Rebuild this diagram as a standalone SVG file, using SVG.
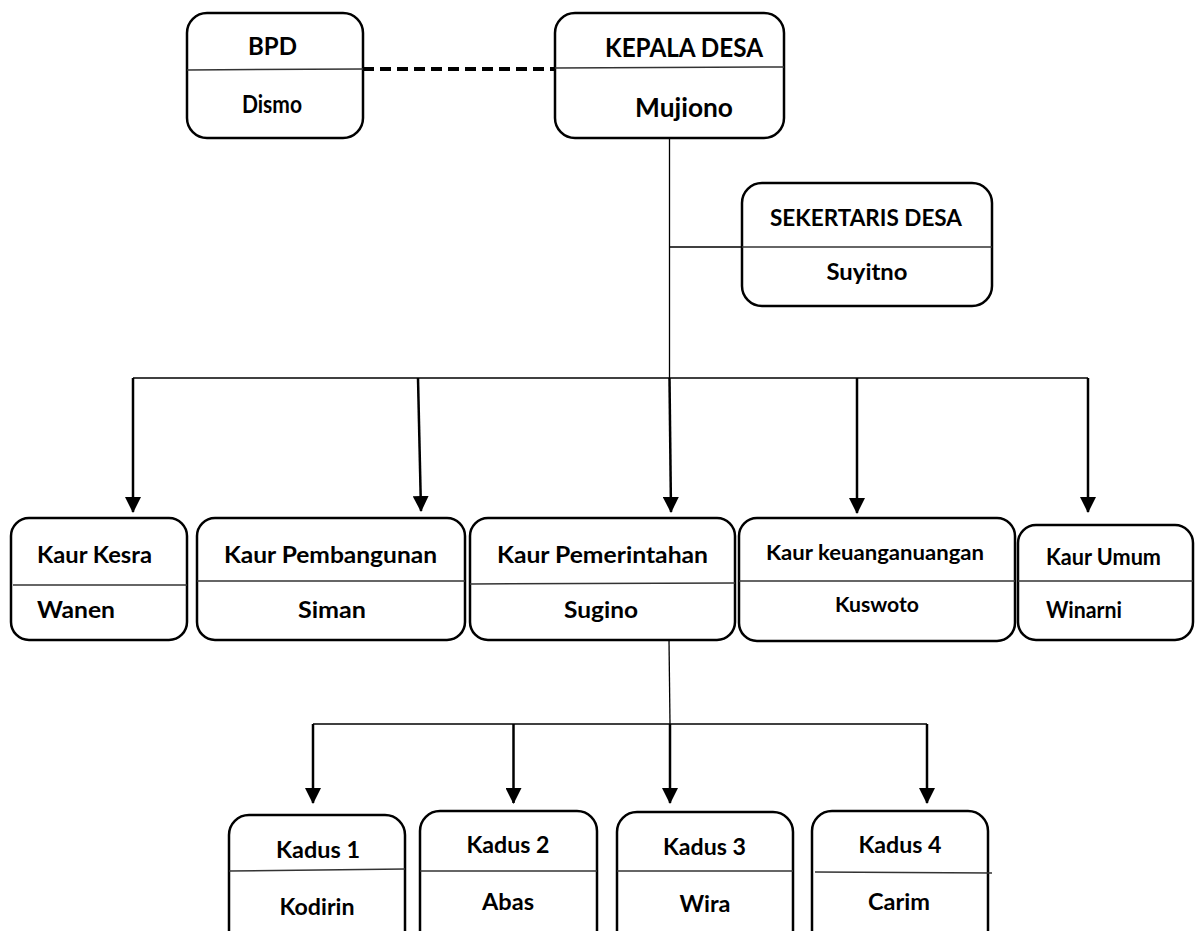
<svg xmlns="http://www.w3.org/2000/svg" width="1195" height="931" viewBox="0 0 1195 931">
<style>
.box{fill:#fff;stroke:#000;stroke-width:2.5}
.div{stroke:#333;stroke-width:1.5;fill:none}
.ln{stroke:#000;stroke-width:1.3;fill:none}
.arr{stroke:#000;stroke-width:2.5;fill:none}
text{font-family:Lato,"Open Sans","Liberation Sans",sans-serif;font-weight:bold;fill:#000}
.c{text-anchor:middle}
</style>
<defs>
<marker id="ahd" markerUnits="userSpaceOnUse" markerWidth="16" markerHeight="16" refX="15" refY="8" orient="auto" viewBox="0 0 16 16">
<path d="M0,0 L16,8 L0,16 Z" fill="#000"/>
</marker>
</defs>
<rect width="1195" height="931" fill="#fff"/>
<g id="connectors">
<line x1="363" y1="69" x2="555" y2="69" stroke="#000" stroke-width="4" stroke-dasharray="11,6"/>
<line class="ln" x1="669.5" y1="139" x2="669.5" y2="378"/>
<line class="ln" x1="669.5" y1="247" x2="742" y2="247"/>
<line class="ln" x1="133" y1="378" x2="1088" y2="378"/>
<line class="arr" x1="133" y1="378" x2="133" y2="512" marker-end="url(#ahd)"/>
<line class="arr" x1="418" y1="378" x2="421" y2="511" marker-end="url(#ahd)"/>
<line class="arr" x1="669.5" y1="378" x2="671" y2="512" marker-end="url(#ahd)"/>
<line class="arr" x1="857" y1="378" x2="857" y2="513" marker-end="url(#ahd)"/>
<line class="arr" x1="1088" y1="378" x2="1088" y2="512" marker-end="url(#ahd)"/>
<line class="ln" x1="669" y1="640" x2="670" y2="724"/>
<line class="ln" x1="313" y1="724" x2="927" y2="724"/>
<line class="arr" x1="313" y1="724" x2="313" y2="803" marker-end="url(#ahd)"/>
<line class="arr" x1="513.5" y1="724" x2="513.5" y2="803" marker-end="url(#ahd)"/>
<line class="arr" x1="670" y1="724" x2="670" y2="803" marker-end="url(#ahd)"/>
<line class="arr" x1="927" y1="724" x2="927" y2="803" marker-end="url(#ahd)"/>
</g>
<g id="bpd">
<rect class="box" x="187" y="13" width="176" height="125" rx="20"/>
<line class="div" x1="187" y1="70" x2="363" y2="69"/>
<text class="c" x="272.5" y="55" font-size="24" textLength="49" lengthAdjust="spacingAndGlyphs">BPD</text>
<text class="c" x="272" y="113" font-size="24" textLength="60" lengthAdjust="spacingAndGlyphs">Dismo</text>
</g>
<g id="kepala-desa">
<rect class="box" x="555" y="13" width="229" height="125" rx="20"/>
<line class="div" x1="555" y1="68" x2="784" y2="67"/>
<text class="c" x="684" y="57" font-size="27" textLength="158" lengthAdjust="spacingAndGlyphs">KEPALA DESA</text>
<text class="c" x="684" y="117" font-size="26" textLength="98" lengthAdjust="spacingAndGlyphs">Mujiono</text>
</g>
<g id="sekertaris-desa">
<rect class="box" x="742" y="183" width="250" height="123" rx="20"/>
<line class="div" x1="742" y1="247" x2="992" y2="247"/>
<text class="c" x="866" y="226" font-size="22" textLength="192" lengthAdjust="spacingAndGlyphs">SEKERTARIS DESA</text>
<text class="c" x="867" y="280" font-size="22" textLength="81" lengthAdjust="spacingAndGlyphs">Suyitno</text>
</g>
<g id="kaur-kesra">
<rect class="box" x="11" y="518" width="176" height="122" rx="18"/>
<line class="div" x1="13" y1="585" x2="187" y2="585"/>
<text x="37" y="563" font-size="23" textLength="115" lengthAdjust="spacingAndGlyphs">Kaur Kesra</text>
<text x="37" y="618" font-size="23" textLength="78" lengthAdjust="spacingAndGlyphs">Wanen</text>
</g>
<g id="kaur-pembangunan">
<rect class="box" x="197" y="518" width="268" height="122" rx="18"/>
<line class="div" x1="197" y1="581" x2="465" y2="581"/>
<text class="c" x="330.5" y="563" font-size="23" textLength="213" lengthAdjust="spacingAndGlyphs">Kaur Pembangunan</text>
<text class="c" x="332" y="618" font-size="23" textLength="68" lengthAdjust="spacingAndGlyphs">Siman</text>
</g>
<g id="kaur-pemerintahan">
<rect class="box" x="470" y="518" width="265" height="122" rx="18"/>
<line class="div" x1="470" y1="584" x2="735" y2="583"/>
<text class="c" x="602.5" y="563" font-size="23" textLength="211" lengthAdjust="spacingAndGlyphs">Kaur Pemerintahan</text>
<text class="c" x="601" y="618" font-size="23" textLength="74" lengthAdjust="spacingAndGlyphs">Sugino</text>
</g>
<g id="kaur-keuangan">
<rect class="box" x="739" y="518" width="276" height="123" rx="18"/>
<line class="div" x1="739" y1="581" x2="1015" y2="581"/>
<text class="c" x="875" y="560" font-size="21" textLength="218" lengthAdjust="spacingAndGlyphs">Kaur keuanganuangan</text>
<text class="c" x="877" y="612" font-size="21" textLength="84" lengthAdjust="spacingAndGlyphs">Kuswoto</text>
</g>
<g id="kaur-umum">
<rect class="box" x="1018" y="525" width="175" height="115" rx="18"/>
<line class="div" x1="1018" y1="581" x2="1193" y2="581"/>
<text x="1046" y="565" font-size="22" textLength="115" lengthAdjust="spacingAndGlyphs">Kaur Umum</text>
<text x="1046" y="618" font-size="22" textLength="76" lengthAdjust="spacingAndGlyphs">Winarni</text>
</g>
<g id="kadus-1">
<rect class="box" x="229" y="815" width="176" height="150" rx="20"/>
<line class="div" x1="229" y1="871" x2="405" y2="869"/>
<text class="c" x="318" y="858" font-size="23" textLength="84" lengthAdjust="spacingAndGlyphs">Kadus 1</text>
<text class="c" x="317" y="915" font-size="23" textLength="75" lengthAdjust="spacingAndGlyphs">Kodirin</text>
</g>
<g id="kadus-2">
<rect class="box" x="420" y="811" width="177" height="150" rx="20"/>
<line class="div" x1="420" y1="871" x2="597" y2="871"/>
<text class="c" x="508" y="853" font-size="23" textLength="83" lengthAdjust="spacingAndGlyphs">Kadus 2</text>
<text class="c" x="508" y="910" font-size="23" textLength="52" lengthAdjust="spacingAndGlyphs">Abas</text>
</g>
<g id="kadus-3">
<rect class="box" x="617" y="812" width="176" height="150" rx="20"/>
<line class="div" x1="617" y1="871" x2="793" y2="871"/>
<text class="c" x="704.5" y="855" font-size="23" textLength="83" lengthAdjust="spacingAndGlyphs">Kadus 3</text>
<text class="c" x="705" y="912" font-size="23" textLength="51" lengthAdjust="spacingAndGlyphs">Wira</text>
</g>
<g id="kadus-4">
<rect class="box" x="812" y="811" width="176" height="150" rx="20"/>
<line class="div" x1="815" y1="872" x2="992" y2="873"/>
<text class="c" x="900" y="853" font-size="23" textLength="83" lengthAdjust="spacingAndGlyphs">Kadus 4</text>
<text class="c" x="899" y="910" font-size="23" textLength="62" lengthAdjust="spacingAndGlyphs">Carim</text>
</g>
</svg>
